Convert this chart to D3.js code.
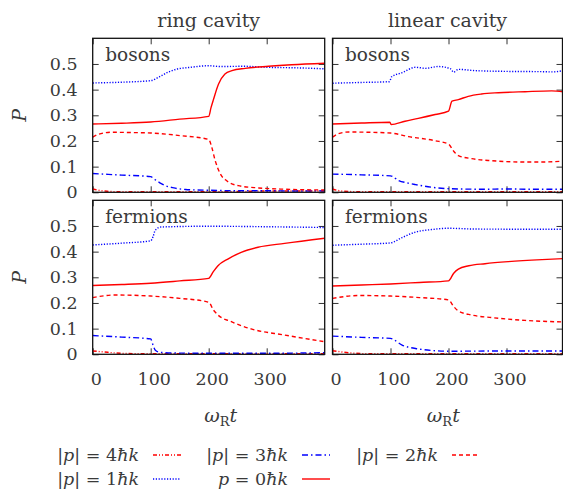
<!DOCTYPE html>
<html>
<head>
<meta charset="utf-8">
<script src="https://cdn.jsdelivr.net/npm/d3@7"></script>
<style>
  body { margin: 0; background: #fff; }
  text { font-family: "DejaVu Serif", serif; fill: #3a3a3a; }
  .math { font-style: italic; }
</style>
</head>
<body>
<div id="chart"></div>
<script>
// Data: [omega_R t, P]
// ring cavity, bosons
const rbP4 = [[0,0.013],[10,0.008],[25,0.004],[50,0.002],[100,0.002],[150,0.002],[200,0.002],[250,0.003],[300,0.005],[350,0.005],[400,0.005]];
const rbP3 = [[0,0.073],[50,0.067],[100,0.061],[107,0.05],[115,0.038],[125,0.026],[140,0.017],[160,0.011],[200,0.008],[250,0.006],[300,0.006],[350,0.005],[400,0.006]];
const rbP2 = [[0,0.215],[10,0.226],[33,0.234],[60,0.233],[100,0.231],[150,0.221],[200,0.206],[205,0.178],[211,0.125],[220,0.072],[231,0.045],[251,0.026],[286,0.017],[331,0.012],[400,0.009]];
const rbP1 = [[0,0.426],[50,0.429],[100,0.435],[115,0.45],[130,0.468],[145,0.48],[165,0.486],[200,0.493],[220,0.49],[260,0.491],[300,0.487],[350,0.485],[400,0.481]];
const rbP0 = [[0,0.266],[50,0.269],[100,0.274],[150,0.285],[200,0.296],[204,0.33],[208,0.36],[217,0.422],[228,0.461],[240,0.474],[263,0.483],[303,0.491],[343,0.497],[400,0.503]];
// linear cavity, bosons
const lbP4 = [[0,0.013],[10,0.007],[20,0.004],[50,0.002],[100,0.002],[200,0.002],[300,0.002],[400,0.002]];
const lbP3 = [[0,0.071],[50,0.068],[100,0.064],[114,0.046],[130,0.036],[143,0.03],[177,0.018],[217,0.013],[260,0.012],[300,0.013],[340,0.012],[400,0.012]];
const lbP2 = [[0,0.215],[10,0.228],[28,0.235],[60,0.234],[100,0.231],[131,0.217],[177,0.201],[200,0.188],[209,0.16],[217,0.143],[240,0.131],[275,0.123],[332,0.118],[361,0.118],[400,0.122]];
const lbP1 = [[0,0.425],[50,0.428],[98,0.431],[102,0.45],[120,0.466],[143,0.487],[160,0.483],[183,0.49],[203,0.482],[209,0.468],[217,0.479],[246,0.474],[303,0.471],[361,0.47],[378,0.469],[400,0.475]];
const lbP0 = [[0,0.266],[50,0.27],[99,0.273],[101,0.264],[125,0.277],[148,0.288],[177,0.303],[200,0.316],[206,0.355],[217,0.361],[234,0.374],[257,0.383],[286,0.388],[332,0.392],[378,0.395],[400,0.391]];
// ring cavity, fermions
const rfP4 = [[0,0.013],[20,0.009],[40,0.005],[60,0.003],[100,0.002],[200,0.002],[300,0.002],[400,0.002]];
const rfP3 = [[0,0.073],[50,0.067],[100,0.06],[104,0.036],[108,0.016],[116,0.008],[140,0.005],[200,0.004],[300,0.004],[400,0.006]];
const rfP2 = [[0,0.221],[38,0.231],[100,0.227],[150,0.218],[200,0.203],[208,0.173],[216,0.153],[239,0.127],[273,0.099],[331,0.075],[400,0.049]];
const rfP1 = [[0,0.426],[50,0.433],[100,0.442],[104,0.458],[108,0.484],[118,0.496],[200,0.499],[300,0.497],[400,0.494]];
const rfP0 = [[0,0.268],[50,0.272],[100,0.277],[150,0.286],[200,0.296],[208,0.322],[216,0.345],[233,0.371],[256,0.397],[285,0.417],[331,0.432],[400,0.452]];
// linear cavity, fermions
const lfP4 = [[0,0.014],[20,0.008],[40,0.004],[70,0.002],[200,0.002],[300,0.002],[400,0.002]];
const lfP3 = [[0,0.071],[50,0.066],[100,0.062],[120,0.036],[148,0.021],[177,0.014],[200,0.012],[300,0.013],[400,0.013]];
const lfP2 = [[0,0.218],[45,0.229],[100,0.227],[150,0.221],[200,0.212],[209,0.186],[217,0.169],[240,0.153],[275,0.143],[332,0.132],[400,0.126]];
const lfP1 = [[0,0.425],[50,0.429],[100,0.434],[120,0.455],[143,0.476],[171,0.486],[200,0.491],[246,0.488],[400,0.487]];
const lfP0 = [[0,0.266],[50,0.27],[100,0.274],[150,0.28],[200,0.286],[209,0.316],[217,0.332],[235,0.345],[263,0.353],[303,0.361],[361,0.369],[400,0.373]];

const columnTitles = ["ring cavity", "linear cavity"];
const rowLabels = ["bosons", "fermions"];
const xTicks = [0, 100, 200, 300];
const yTicks = [0, 0.1, 0.2, 0.3, 0.4, 0.5];
const legendLabels = ["4", "3", "2", "1", "0"];

// line styles, one per |p|
const styles = {
  "4": { color: "#ff0000", dash: "4,2,1,2,1,2" },
  "3": { color: "#0000ff", dash: "6,3,1.5,3" },
  "2": { color: "#ff0000", dash: "4,3" },
  "1": { color: "#0000ff", dash: "1.2,1.6" },
  "0": { color: "#ff0000", dash: null }
};

const panels = [
  { col: 0, row: 0, series: { "4": rbP4, "3": rbP3, "2": rbP2, "1": rbP1, "0": rbP0 } },
  { col: 1, row: 0, series: { "4": lbP4, "3": lbP3, "2": lbP2, "1": lbP1, "0": lbP0 } },
  { col: 0, row: 1, series: { "4": rfP4, "3": rfP3, "2": rfP2, "1": rfP1, "0": rfP0 } },
  { col: 1, row: 1, series: { "4": lfP4, "3": lfP3, "2": lfP2, "1": lfP1, "0": lfP0 } }
];

// layout
const W = 563, H = 491;
const colX = [92.7, 332.5];
const colW = [232, 230];
const colMax = [400, 400 * 230 / 232];
const rowY = [38.3, 200.3];
const panelH = 154;

const svg = d3.select("#chart").append("svg")
  .attr("width", W)
  .attr("height", H);

panels.forEach((p, i) => {
  const x = d3.scaleLinear().domain([0, colMax[p.col]]).range([0, colW[p.col]]);
  const y = d3.scaleLinear().domain([0, 0.6]).range([panelH, 0]);

  const g = svg.append("g")
    .attr("transform", `translate(${colX[p.col]},${rowY[p.row]})`);

  g.append("clipPath").attr("id", "clip" + i)
    .append("rect").attr("width", colW[p.col]).attr("height", panelH);

  // ticks pointing inward on all four sides
  const tickStyle = sel => {
    sel.select(".domain").remove();
    sel.selectAll(".tick line").attr("stroke", "#333").attr("stroke-width", 1);
  };
  g.append("g").call(d3.axisLeft(y).tickValues(yTicks).tickSize(-6).tickFormat(""))
    .call(tickStyle);
  g.append("g").attr("transform", `translate(${colW[p.col]},0)`)
    .call(d3.axisRight(y).tickValues(yTicks).tickSize(-6).tickFormat("")).call(tickStyle);
  g.append("g").call(d3.axisTop(x).tickValues(xTicks).tickSize(-6).tickFormat(""))
    .call(tickStyle);
  g.append("g").attr("transform", `translate(0,${panelH})`)
    .call(d3.axisBottom(x).tickValues(xTicks).tickSize(-6).tickFormat("")).call(tickStyle);

  // tick labels only on the outer panels
  if (p.col === 0) {
    g.selectAll(".ylab").data(yTicks).enter().append("text")
      .attr("x", -15)
      .attr("y", d => y(d) + 6)
      .attr("text-anchor", "end")
      .style("font-size", "17.5px")
      .text(d => d === 0 ? "0" : d3.format(".1f")(d));
  }
  if (p.row === 1) {
    g.selectAll(".xlab").data(xTicks).enter().append("text")
      .attr("x", d => x(d) + 3.5)
      .attr("y", panelH + 31)
      .attr("text-anchor", "middle")
      .style("font-size", "17.5px")
      .text(d => d);
  }

  // curves
  const line = d3.line()
    .x(d => x(d[0]))
    .y(d => y(d[1]))
    .curve(d3.curveMonotoneX);

  legendLabels.forEach(k => {
    g.append("path")
      .attr("clip-path", `url(#clip${i})`)
      .attr("d", line(p.series[k]))
      .attr("fill", "none")
      .attr("stroke", styles[k].color)
      .attr("stroke-width", 1.4)
      .attr("stroke-dasharray", styles[k].dash);
  });

  // frame
  g.append("rect")
    .attr("width", colW[p.col])
    .attr("height", panelH)
    .attr("fill", "none")
    .attr("stroke", "#111")
    .attr("stroke-width", 1.3);

  // bosons / fermions
  g.append("text")
    .attr("x", 12.5)
    .attr("y", 22.5)
    .style("font-size", "18.5px")
    .text(rowLabels[p.row]);
});

// column titles
columnTitles.forEach((t, c) => {
  svg.append("text")
    .attr("x", colX[c] + colW[c] / 2)
    .attr("y", 26.5)
    .attr("text-anchor", "middle")
    .style("font-size", "19px")
    .text(t);
});

// P labels
rowY.forEach(ry => {
  svg.append("text")
    .attr("class", "math")
    .attr("transform", `translate(26,${ry + panelH / 2}) rotate(-90)`)
    .attr("text-anchor", "middle")
    .style("font-size", "19px")
    .text("P");
});

// omega_R t labels
[220.7, 443.3].forEach(cx => {
  const t = svg.append("text")
    .attr("x", cx)
    .attr("y", 421.5)
    .attr("text-anchor", "middle")
    .style("font-size", "19px");
  t.append("tspan").attr("class", "math").text("ω");
  t.append("tspan").attr("dy", 4).style("font-size", "13px").text("R");
  t.append("tspan").attr("dy", -4).attr("class", "math").text("t");
});

// legend
const legendPos = {
  "4": { x: 139, y: 455 }, "3": { x: 288, y: 455 }, "2": { x: 438, y: 455 },
  "1": { x: 139, y: 479 }, "0": { x: 288, y: 479 }
};
legendLabels.forEach(k => {
  const pos = legendPos[k];
  const t = svg.append("text")
    .attr("x", pos.x)
    .attr("y", pos.y + 6)
    .attr("text-anchor", "end")
    .style("font-size", "17.5px");
  if (k === "0") {
    t.append("tspan").attr("class", "math").text("p");
    t.append("tspan").text(" = 0");
  } else {
    t.append("tspan").text("|");
    t.append("tspan").attr("class", "math").text("p");
    t.append("tspan").text("| = " + k);
  }
  t.append("tspan").attr("class", "math").text("ħk");

  svg.append("line")
    .attr("x1", pos.x + 14).attr("x2", pos.x + 42)
    .attr("y1", pos.y).attr("y2", pos.y)
    .attr("stroke", styles[k].color)
    .attr("stroke-width", 1.4)
    .attr("stroke-dasharray", styles[k].dash);
});
</script>
</body>
</html>
